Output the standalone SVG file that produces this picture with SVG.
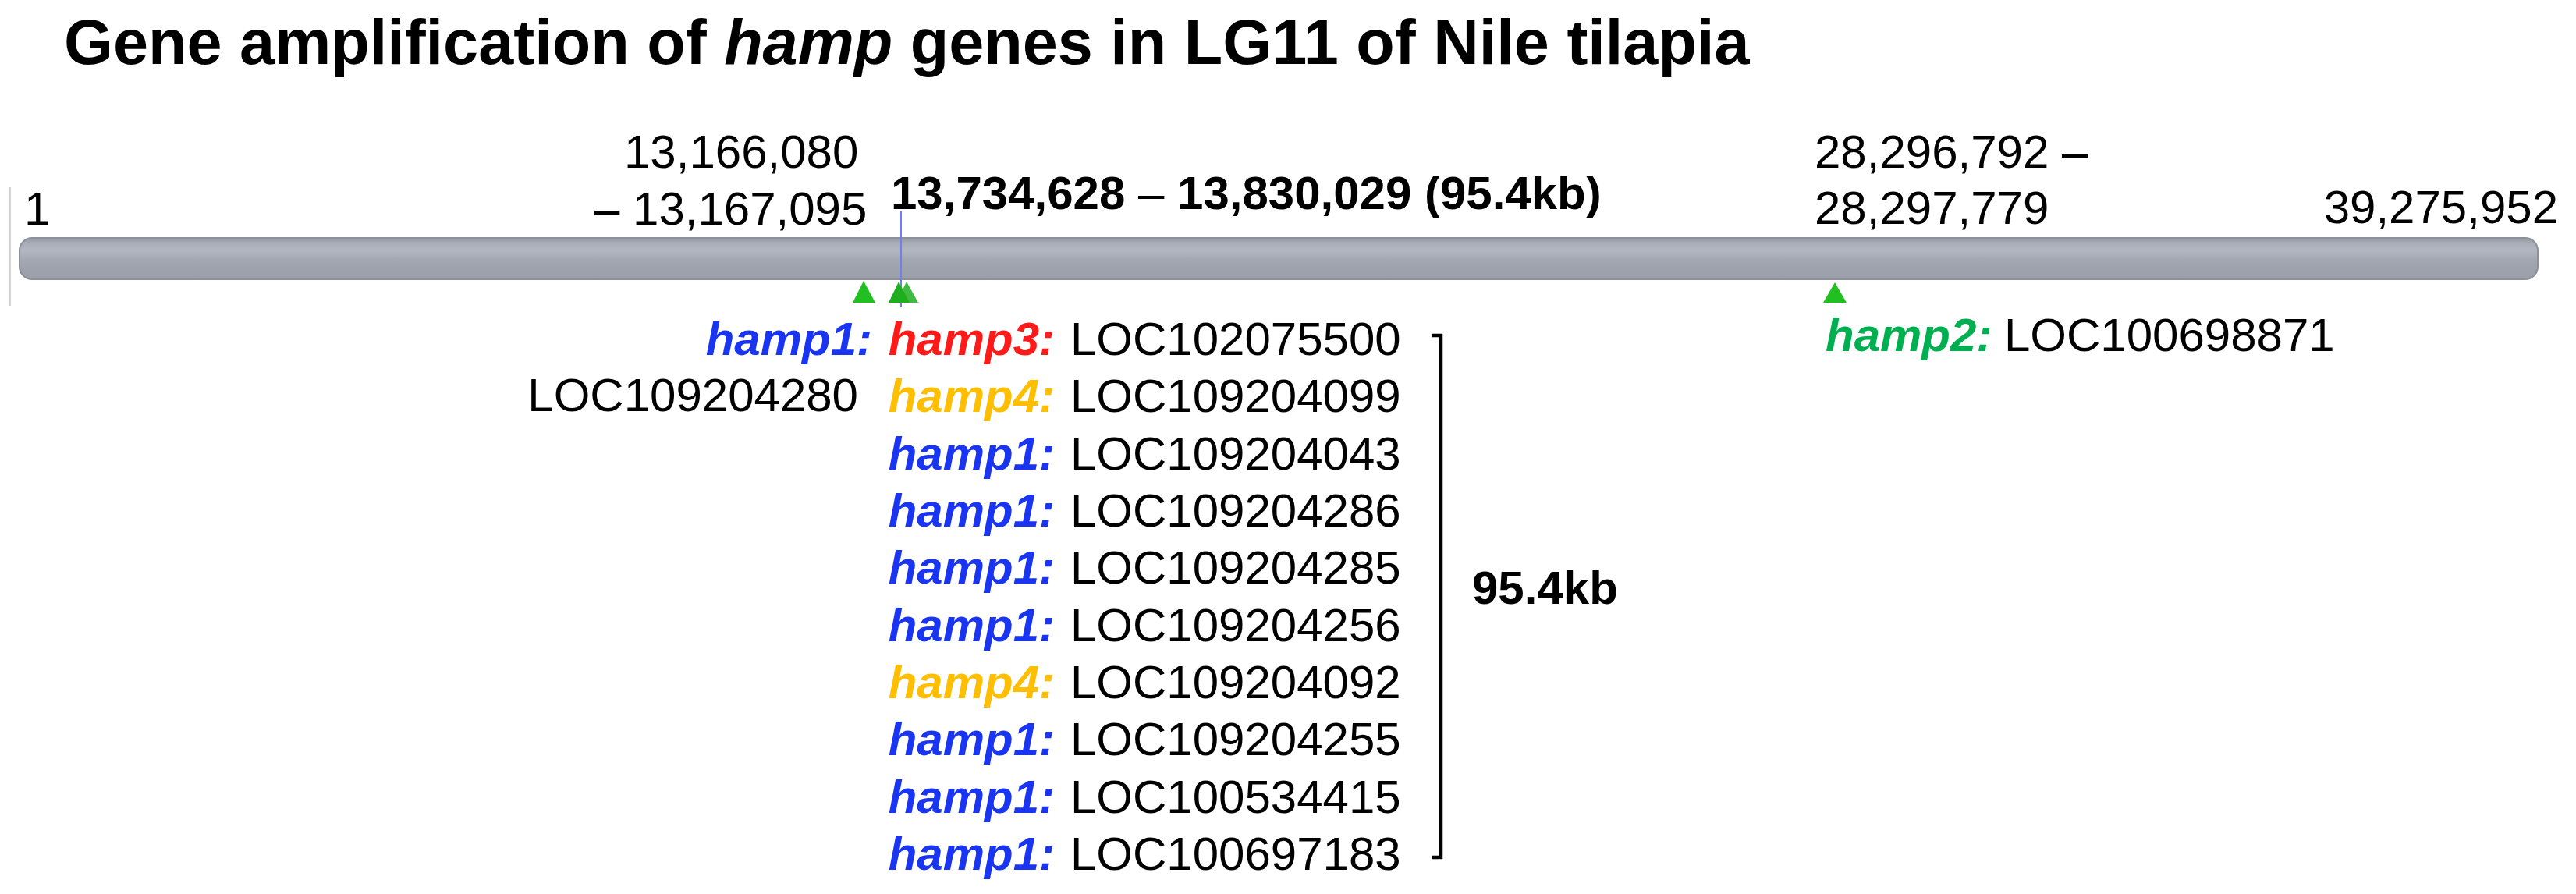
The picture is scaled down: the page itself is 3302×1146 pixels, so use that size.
<svg xmlns="http://www.w3.org/2000/svg" width="3302" height="1146" viewBox="0 0 3302 1146">
<defs>
<linearGradient id="barg" x1="0" y1="0" x2="0" y2="1">
<stop offset="0" stop-color="#8f939d"/>
<stop offset="0.12" stop-color="#a9adb8"/>
<stop offset="0.3" stop-color="#b3b7c1"/>
<stop offset="0.55" stop-color="#a2a6b1"/>
<stop offset="1" stop-color="#9a9ea9"/>
</linearGradient>
<style>
text{font-family:"Liberation Sans",Arial,sans-serif;fill:#000}
.t{font-size:81px;font-weight:bold}
.n{font-size:60px}
.b{font-size:60px;font-weight:bold}
.g{font-size:60px;font-weight:bold;font-style:italic}
.h1{fill:#1a35f2}
.h3{fill:#ff1a1a}
.h4{fill:#ffbf00}
.h2{fill:#00b050}
.tri{fill:#22bf22}
</style>
</defs>
<rect width="3302" height="1146" fill="#fff"/>
<g id="title"><text class="t" x="82" y="82">Gene amplification of <tspan font-style="italic">hamp</tspan> genes in LG11 of Nile tilapia</text></g>
<g id="chromosome">
<line x1="13" y1="240" x2="13" y2="392" stroke="#d4d4d4" stroke-width="2"/>
<rect x="25" y="305" width="3228" height="53" rx="16" fill="url(#barg)" stroke="#8c9099" stroke-width="2"/>
</g>
<g id="axis-labels">
<text class="n" x="31" y="288">1</text>
<text class="n" x="800" y="215">13,166,080</text>
<text class="n" x="761" y="288">– 13,167,095</text>
<text class="b" x="1142" y="268">13,734,628 <tspan font-weight="normal">–</tspan> 13,830,029 (95.4kb)</text>
<text class="n" x="2326" y="215">28,296,792 –</text>
<text class="n" x="2326" y="287">28,297,779</text>
<text class="n" x="3279" y="286" text-anchor="end">39,275,952</text>
</g>
<g id="markers">
<line x1="1155" y1="270" x2="1155" y2="393" stroke="#6f7ff0" stroke-width="2"/>
<polygon class="tri" points="1093,388 1107,360 1122,388"/>
<polygon points="1139,388 1152,361 1166,388" fill="#1fae1f"/>
<polygon points="1149,388 1162,361 1177,388" fill="#1fae1f" fill-opacity="0.85"/>
<polygon class="tri" points="2337,388 2352,362 2367,388"/>
</g>
<g id="gene-left">
<text class="g h1" x="1118" y="455" text-anchor="end">hamp1:</text>
<text class="n" x="1100" y="527" text-anchor="end">LOC109204280</text>
</g>
<g id="gene-cluster">
<text class="g h3" x="1352" y="455" text-anchor="end">hamp3:</text><text class="n" x="1372" y="455">LOC102075500</text>
<text class="g h4" x="1352" y="528" text-anchor="end">hamp4:</text><text class="n" x="1372" y="528">LOC109204099</text>
<text class="g h1" x="1352" y="602" text-anchor="end">hamp1:</text><text class="n" x="1372" y="602">LOC109204043</text>
<text class="g h1" x="1352" y="675" text-anchor="end">hamp1:</text><text class="n" x="1372" y="675">LOC109204286</text>
<text class="g h1" x="1352" y="748" text-anchor="end">hamp1:</text><text class="n" x="1372" y="748">LOC109204285</text>
<text class="g h1" x="1352" y="822" text-anchor="end">hamp1:</text><text class="n" x="1372" y="822">LOC109204256</text>
<text class="g h4" x="1352" y="895" text-anchor="end">hamp4:</text><text class="n" x="1372" y="895">LOC109204092</text>
<text class="g h1" x="1352" y="968" text-anchor="end">hamp1:</text><text class="n" x="1372" y="968">LOC109204255</text>
<text class="g h1" x="1352" y="1042" text-anchor="end">hamp1:</text><text class="n" x="1372" y="1042">LOC100534415</text>
<text class="g h1" x="1352" y="1115" text-anchor="end">hamp1:</text><text class="n" x="1372" y="1115">LOC100697183</text>
</g>
<g id="bracket">
<path d="M1835,430 H1847 V1099 H1835" fill="none" stroke="#000" stroke-width="4.5"/>
<text class="b" x="1887" y="774">95.4kb</text>
</g>
<g id="gene-right">
<text class="g h2" x="2340" y="450">hamp2:</text><text class="n" x="2569" y="450">LOC100698871</text>
</g>
</svg>
